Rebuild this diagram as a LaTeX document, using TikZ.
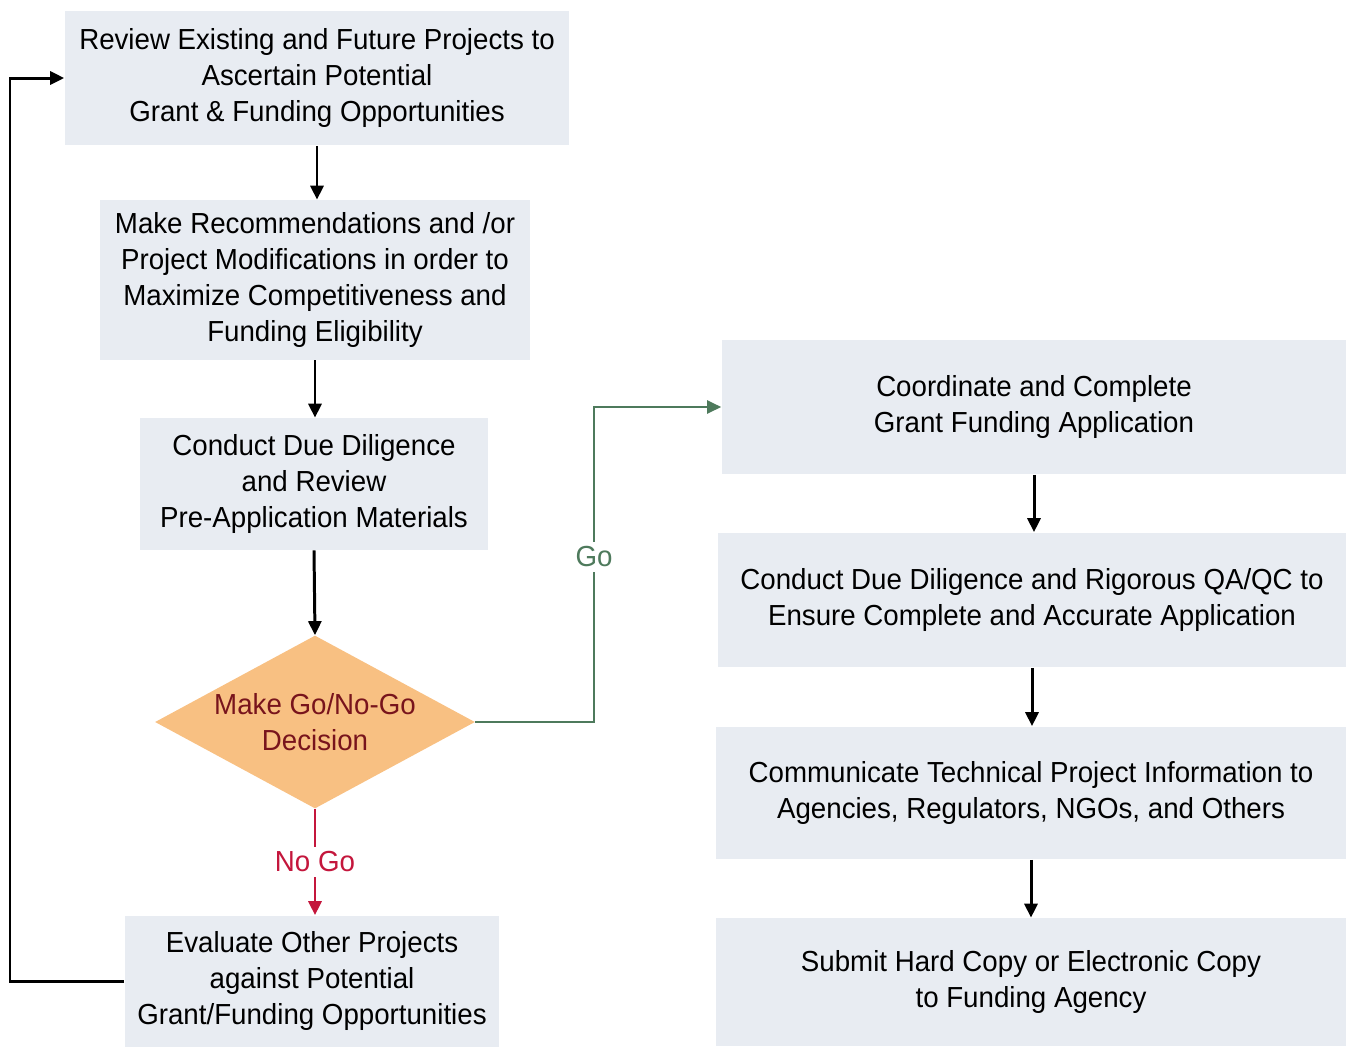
\documentclass[tikz,border=0pt]{standalone}
\usepackage{fontspec}
\setmainfont[FakeStretch=0.955]{Liberation Sans}
\usetikzlibrary{arrows.meta,shapes.geometric}

\definecolor{boxfill}{RGB}{232,236,242}
\definecolor{decisionfill}{RGB}{248,192,130}
\definecolor{decisiontext}{RGB}{120,20,28}
\definecolor{nogored}{RGB}{196,22,60}
\definecolor{gogreen}{RGB}{78,122,92}

\newcommand{\taskfont}{\fontsize{16.5}{20.5}\selectfont}

\tikzset{
  taskbox/.style={rectangle, fill=boxfill, align=center, inner sep=0pt, font=\taskfont},
  decision/.style={diamond, fill=decisionfill, inner sep=0pt, minimum width=6.4cm, minimum height=3.46cm},
  flow/.style={line width=1.7pt, -{Triangle[length=0.28cm,width=0.26cm]}},
  goline/.style={gogreen, line width=1.2pt, -{Triangle[length=0.28cm,width=0.26cm]}},
  nogoline/.style={nogored, line width=1.7pt, -{Triangle[length=0.28cm,width=0.26cm]}},
  branchlabel/.style={fill=white, font=\taskfont, inner sep=0.1cm},
}

\begin{document}
\begin{tikzpicture}[x=0.02cm,y=-0.02cm]

  \useasboundingbox (0,0) rectangle (1347,1046);

  % Draw left column
  \node[taskbox, minimum width=10.1cm, minimum height=2.7cm] (review) at (317,78)
    {Review Existing and Future Projects to\\Ascertain Potential\\Grant \& Funding Opportunities};
  \node[taskbox, minimum width=8.6cm, minimum height=3.2cm] (recommend) at (315,280)
    {Make Recommendations and /or\\Project Modifications in order to\\Maximize Competitiveness and\\Funding Eligibility};
  \node[taskbox, minimum width=6.96cm, minimum height=2.64cm] (diligence) at (314,484)
    {Conduct Due Diligence\\and Review\\Pre-Application Materials};
  \node[taskbox, minimum width=7.5cm, minimum height=2.62cm] (evaluate) at (312,981)
    {Evaluate Other Projects\\against Potential\\Grant/Funding Opportunities};

  % Draw decision
  \node[decision, label={[font=\taskfont, text=decisiontext, align=center]center:Make Go/No-Go\\Decision}] (dec) at (315,722) {};

  % Draw right column
  \node[taskbox, minimum width=12.5cm, minimum height=2.7cm] (apply) at (1034,407)
    {Coordinate and Complete\\Grant Funding Application};
  \node[taskbox, minimum width=12.58cm, minimum height=2.7cm] (qaqc) at (1032,600)
    {Conduct Due Diligence and Rigorous QA/QC to\\Ensure Complete and Accurate Application};
  \node[taskbox, minimum width=12.62cm, minimum height=2.66cm] (inform) at (1031,793)
    {Communicate Technical Project Information to\\Agencies, Regulators, NGOs, and Others};
  \node[taskbox, minimum width=12.62cm, minimum height=2.56cm] (submit) at (1031,982)
    {Submit Hard Copy or Electronic Copy\\to Funding Agency};

  % Draw left arrows
  \draw[flow] (review.south) -- (review.south |- recommend.north);
  \draw[flow] (recommend.south) -- (recommend.south |- diligence.north);
  \draw[flow] (diligence.south) -- (dec.north);

  % Draw no go branch
  \draw[nogoline] (dec.south) -- node[branchlabel, text=nogored] (nogo) {No Go} (dec.south |- evaluate.north);

  % Draw go branch
  \coordinate (gocorner1) at (594,722);
  \coordinate (gocorner2) at (594,407);
  \draw[goline] (dec.east) -- (gocorner1) -- node[branchlabel, text=gogreen, pos=0.524] (go) {Go} (gocorner2) -- (apply.west);

  % Draw loop back
  \coordinate (loopx) at (10,0);
  \draw[flow] (evaluate.west) -- (evaluate.west -| loopx) -- (review.west -| loopx) -- (review.west);

  % Draw right arrows
  \draw[flow] (apply.south) -- (apply.south |- qaqc.north);
  \draw[flow] (qaqc.south) -- (qaqc.south |- inform.north);
  \draw[flow] (inform.south) -- (inform.south |- submit.north);

\end{tikzpicture}
\end{document}
